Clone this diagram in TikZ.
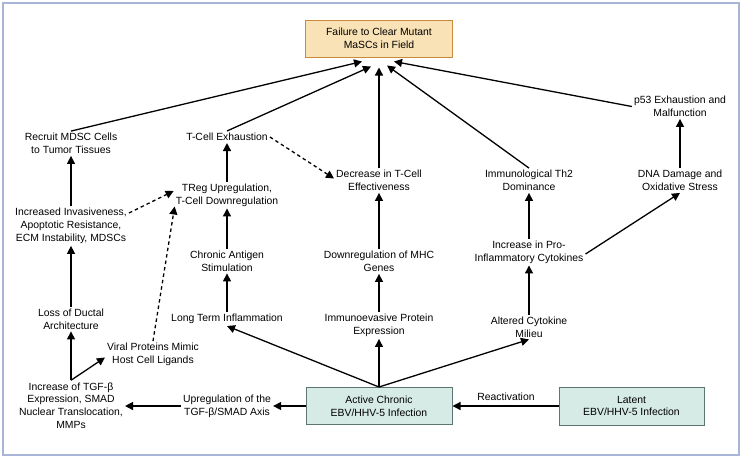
\documentclass[tikz,border=0pt]{standalone}
\usepackage{fontspec}
\setmainfont{Liberation Sans}
\usetikzlibrary{arrows.meta,positioning}
\definecolor{framecol}{HTML}{A9B5D6}
\definecolor{goalfill}{HTML}{F9E2B5}
\definecolor{goaldraw}{HTML}{C98B3A}
\definecolor{virfill}{HTML}{D6EAE6}
\definecolor{virdraw}{HTML}{5D7672}
\tikzset{
  flowarrow/.style={-{Triangle[length=8pt,width=8pt]}, line width=1.3pt},
  dasharrow/.style={flowarrow, dash pattern=on 3.5pt off 3pt},
  effectnode/.style={align=center, inner sep=2pt, font=\fontsize{10.4}{12.8}\selectfont},
  goalbox/.style={draw=goaldraw, fill=goalfill, line width=1pt, minimum width=147pt, minimum height=37pt, align=center, font=\fontsize{10.4}{12.8}\selectfont},
  virusbox/.style={draw=virdraw, fill=virfill, line width=1pt, minimum width=146pt, minimum height=37pt, align=center, font=\fontsize{10.4}{12.8}\selectfont}
}

\begin{document}
\begin{tikzpicture}[x=1pt, y=-1pt]
  \useasboundingbox (0,0) rectangle (743,459);
  \draw[framecol, line width=1.3pt] (3,3) rectangle (739,455);

  % goal and infection boxes
  \node[goalbox] (goal) at (379,38.5) {Failure to Clear Mutant\\MaSCs in Field};
  \node[virusbox] (active) at (379,406) {Active Chronic\\EBV/HHV-5 Infection};
  \node[virusbox, minimum width=145pt, minimum height=38pt] (latent) at (631.5,406) {Latent\\EBV/HHV-5 Infection};

  % effects
  \node[effectnode] (mdsc) at (71,143.5) {Recruit MDSC Cells\\to Tumor Tissues};
  \node[effectnode] (tcell) at (227,137) {T-Cell Exhaustion};
  \node[effectnode] (decrease) at (379,180.5) {Decrease in T-Cell\\Effectiveness};
  \node[effectnode] (th2) at (529,180.5) {Immunological Th2\\Dominance};
  \node[effectnode] (dna) at (680,180.5) {DNA Damage and\\Oxidative Stress};
  \node[effectnode] (p53) at (680,106.5) {p53 Exhaustion and\\Malfunction};
  \node[effectnode] (treg) at (227,195) {TReg Upregulation,\\T-Cell Downregulation};
  \node[effectnode] (inv) at (71,226) {Increased Invasiveness,\\Apoptotic Resistance,\\ECM Instability, MDSCs};
  \node[effectnode] (antigen) at (227,261) {Chronic Antigen\\Stimulation};
  \node[effectnode] (mhc) at (379,261.5) {Downregulation of MHC\\Genes};
  \node[effectnode] (incpro) at (529,252) {Increase in Pro-\\Inflammatory Cytokines};
  \node[effectnode] (loss) at (71,319) {Loss of Ductal\\Architecture};
  \node[effectnode] (longterm) at (227,319) {Long Term Inflammation};
  \node[effectnode] (immuno) at (379,325.5) {Immunoevasive Protein\\Expression};
  \node[effectnode] (altered) at (529,327) {Altered Cytokine\\Milieu};
  \node[effectnode] (viral) at (153,354.5) {Viral Proteins Mimic\\Host Cell Ligands};
  \node[effectnode] (tgf) at (71,405.5) {Increase of TGF-β\\Expression, SMAD\\Nuclear Translocation,\\MMPs};
  \node[effectnode] (upreg) at (227,406) {Upregulation of the\\TGF-β/SMAD Axis};
  \node[effectnode] (react) at (506,397) {Reactivation};

  % bottom row
  \draw[flowarrow] (latent.west) -- (active.east);
  \draw[flowarrow] (active.west) -- (upreg.east);
  \draw[flowarrow] (upreg.west) -- (tgf.east |- upreg.west);
  \draw[flowarrow] (active.north) -- (longterm.south);
  \draw[flowarrow] (active.north) -- (immuno);
  \draw[flowarrow] (active.north) -- (altered.south);

  % left column
  \draw[flowarrow] (tgf) -- (loss);
  \draw[flowarrow] (tgf.north) -- ([yshift=-3pt]viral.west);
  \draw[flowarrow] (loss) -- (inv);
  \draw[flowarrow] (inv) -- (mdsc);
  \draw[dasharrow] ([yshift=13pt]inv.east) -- ([yshift=4pt]treg.west);
  \draw[dasharrow] (viral.north) -- ([xshift=1pt,yshift=2pt]treg.south west);

  % middle columns
  \draw[flowarrow] (longterm) -- (antigen);
  \draw[flowarrow] (antigen) -- (treg);
  \draw[flowarrow] (treg) -- (tcell);
  \draw[dasharrow] (tcell.east) -- ([yshift=2pt]decrease.west);
  \draw[flowarrow] (immuno) -- (mhc);
  \draw[flowarrow] (mhc) -- (decrease);
  \draw[flowarrow] (altered) -- (incpro);
  \draw[flowarrow] (incpro) -- (th2);
  \draw[flowarrow] ([yshift=-2pt]incpro.east) -- (dna.south);
  \draw[flowarrow] (dna) -- (p53);

  % into the goal
  \draw[flowarrow] (mdsc.north) -- ([xshift=-17pt,yshift=-4pt]goal.south);
  \draw[flowarrow] (tcell.north) -- ([xshift=-8pt,yshift=-9pt]goal.south);
  \draw[flowarrow] (decrease.north) -- ([yshift=-10pt]goal.south);
  \draw[flowarrow] (th2.north) -- ([xshift=8pt,yshift=-8pt]goal.south);
  \draw[flowarrow] (p53.west) -- ([xshift=15pt,yshift=-4pt]goal.south);
\end{tikzpicture}
\end{document}
